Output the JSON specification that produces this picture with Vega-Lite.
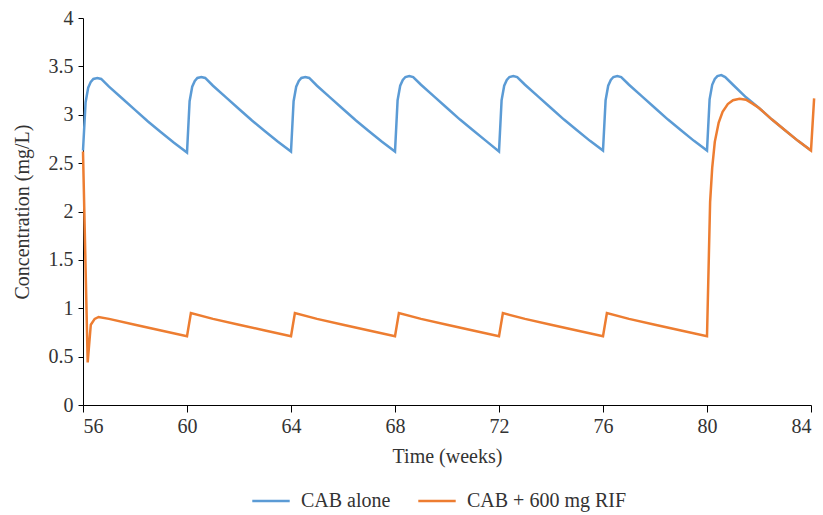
{
  "$schema": "https://vega.github.io/schema/vega-lite/v6.json",
  "width": 728,
  "height": 387,
  "autosize": {"type": "none"},
  "padding": {"left": 83, "top": 18, "right": 12, "bottom": 110},
  "background": "white",
  "config": {
    "view": {"stroke": null},
    "font": "Liberation Serif",
    "axis": {"grid": false, "domainColor": "#000", "tickColor": "#000", "labelColor": "#333", "titleColor": "#333", "labelFont": "Liberation Serif", "titleFont": "Liberation Serif", "labelFontSize": 20, "titleFontSize": 20, "titleFontWeight": "normal"}
  },
  "data": {"values": [
    {"t": 56, "c": 2.63, "s": "CAB alone"},
    {"t": 56.1, "c": 3.13, "s": "CAB alone"},
    {"t": 56.2, "c": 3.28, "s": "CAB alone"},
    {"t": 56.3, "c": 3.34, "s": "CAB alone"},
    {"t": 56.4, "c": 3.37, "s": "CAB alone"},
    {"t": 56.55, "c": 3.38, "s": "CAB alone"},
    {"t": 56.7, "c": 3.37, "s": "CAB alone"},
    {"t": 57, "c": 3.29, "s": "CAB alone"},
    {"t": 57.5, "c": 3.17, "s": "CAB alone"},
    {"t": 58, "c": 3.05, "s": "CAB alone"},
    {"t": 58.5, "c": 2.93, "s": "CAB alone"},
    {"t": 59, "c": 2.82, "s": "CAB alone"},
    {"t": 59.5, "c": 2.71, "s": "CAB alone"},
    {"t": 60, "c": 2.61, "s": "CAB alone"},
    {"t": 60.1, "c": 3.14, "s": "CAB alone"},
    {"t": 60.2, "c": 3.29, "s": "CAB alone"},
    {"t": 60.3, "c": 3.35, "s": "CAB alone"},
    {"t": 60.4, "c": 3.38, "s": "CAB alone"},
    {"t": 60.55, "c": 3.39, "s": "CAB alone"},
    {"t": 60.7, "c": 3.38, "s": "CAB alone"},
    {"t": 61, "c": 3.30, "s": "CAB alone"},
    {"t": 61.5, "c": 3.18, "s": "CAB alone"},
    {"t": 62, "c": 3.06, "s": "CAB alone"},
    {"t": 62.5, "c": 2.94, "s": "CAB alone"},
    {"t": 63, "c": 2.83, "s": "CAB alone"},
    {"t": 63.5, "c": 2.72, "s": "CAB alone"},
    {"t": 64, "c": 2.62, "s": "CAB alone"},
    {"t": 64.1, "c": 3.14, "s": "CAB alone"},
    {"t": 64.2, "c": 3.29, "s": "CAB alone"},
    {"t": 64.3, "c": 3.35, "s": "CAB alone"},
    {"t": 64.4, "c": 3.38, "s": "CAB alone"},
    {"t": 64.55, "c": 3.39, "s": "CAB alone"},
    {"t": 64.7, "c": 3.38, "s": "CAB alone"},
    {"t": 65, "c": 3.30, "s": "CAB alone"},
    {"t": 65.5, "c": 3.18, "s": "CAB alone"},
    {"t": 66, "c": 3.06, "s": "CAB alone"},
    {"t": 66.5, "c": 2.94, "s": "CAB alone"},
    {"t": 67, "c": 2.83, "s": "CAB alone"},
    {"t": 67.5, "c": 2.72, "s": "CAB alone"},
    {"t": 68, "c": 2.62, "s": "CAB alone"},
    {"t": 68.1, "c": 3.15, "s": "CAB alone"},
    {"t": 68.2, "c": 3.30, "s": "CAB alone"},
    {"t": 68.3, "c": 3.36, "s": "CAB alone"},
    {"t": 68.4, "c": 3.39, "s": "CAB alone"},
    {"t": 68.55, "c": 3.40, "s": "CAB alone"},
    {"t": 68.7, "c": 3.39, "s": "CAB alone"},
    {"t": 69, "c": 3.31, "s": "CAB alone"},
    {"t": 69.5, "c": 3.19, "s": "CAB alone"},
    {"t": 70, "c": 3.07, "s": "CAB alone"},
    {"t": 70.5, "c": 2.95, "s": "CAB alone"},
    {"t": 71, "c": 2.84, "s": "CAB alone"},
    {"t": 71.5, "c": 2.73, "s": "CAB alone"},
    {"t": 72, "c": 2.62, "s": "CAB alone"},
    {"t": 72.1, "c": 3.15, "s": "CAB alone"},
    {"t": 72.2, "c": 3.30, "s": "CAB alone"},
    {"t": 72.3, "c": 3.36, "s": "CAB alone"},
    {"t": 72.4, "c": 3.39, "s": "CAB alone"},
    {"t": 72.55, "c": 3.40, "s": "CAB alone"},
    {"t": 72.7, "c": 3.39, "s": "CAB alone"},
    {"t": 73, "c": 3.31, "s": "CAB alone"},
    {"t": 73.5, "c": 3.19, "s": "CAB alone"},
    {"t": 74, "c": 3.07, "s": "CAB alone"},
    {"t": 74.5, "c": 2.95, "s": "CAB alone"},
    {"t": 75, "c": 2.84, "s": "CAB alone"},
    {"t": 75.5, "c": 2.73, "s": "CAB alone"},
    {"t": 76, "c": 2.63, "s": "CAB alone"},
    {"t": 76.1, "c": 3.15, "s": "CAB alone"},
    {"t": 76.2, "c": 3.30, "s": "CAB alone"},
    {"t": 76.3, "c": 3.36, "s": "CAB alone"},
    {"t": 76.4, "c": 3.39, "s": "CAB alone"},
    {"t": 76.55, "c": 3.40, "s": "CAB alone"},
    {"t": 76.7, "c": 3.39, "s": "CAB alone"},
    {"t": 77, "c": 3.31, "s": "CAB alone"},
    {"t": 77.5, "c": 3.19, "s": "CAB alone"},
    {"t": 78, "c": 3.07, "s": "CAB alone"},
    {"t": 78.5, "c": 2.95, "s": "CAB alone"},
    {"t": 79, "c": 2.84, "s": "CAB alone"},
    {"t": 79.5, "c": 2.73, "s": "CAB alone"},
    {"t": 80, "c": 2.63, "s": "CAB alone"},
    {"t": 80.1, "c": 3.16, "s": "CAB alone"},
    {"t": 80.2, "c": 3.31, "s": "CAB alone"},
    {"t": 80.3, "c": 3.37, "s": "CAB alone"},
    {"t": 80.4, "c": 3.40, "s": "CAB alone"},
    {"t": 80.55, "c": 3.41, "s": "CAB alone"},
    {"t": 80.7, "c": 3.39, "s": "CAB alone"},
    {"t": 81, "c": 3.31, "s": "CAB alone"},
    {"t": 81.5, "c": 3.18, "s": "CAB alone"},
    {"t": 82, "c": 3.07, "s": "CAB alone"},
    {"t": 82.5, "c": 2.95, "s": "CAB alone"},
    {"t": 83, "c": 2.84, "s": "CAB alone"},
    {"t": 83.5, "c": 2.73, "s": "CAB alone"},
    {"t": 84, "c": 2.63, "s": "CAB alone"},

    {"t": 56, "c": 2.62, "s": "CAB + 600 mg RIF"},
    {"t": 56.18, "c": 0.44, "s": "CAB + 600 mg RIF"},
    {"t": 56.3, "c": 0.83, "s": "CAB + 600 mg RIF"},
    {"t": 56.45, "c": 0.89, "s": "CAB + 600 mg RIF"},
    {"t": 56.6, "c": 0.91, "s": "CAB + 600 mg RIF"},
    {"t": 57, "c": 0.89, "s": "CAB + 600 mg RIF"},
    {"t": 58, "c": 0.83, "s": "CAB + 600 mg RIF"},
    {"t": 59, "c": 0.77, "s": "CAB + 600 mg RIF"},
    {"t": 60, "c": 0.71, "s": "CAB + 600 mg RIF"},
    {"t": 60.15, "c": 0.95, "s": "CAB + 600 mg RIF"},
    {"t": 61, "c": 0.89, "s": "CAB + 600 mg RIF"},
    {"t": 62, "c": 0.83, "s": "CAB + 600 mg RIF"},
    {"t": 63, "c": 0.77, "s": "CAB + 600 mg RIF"},
    {"t": 64, "c": 0.71, "s": "CAB + 600 mg RIF"},
    {"t": 64.15, "c": 0.95, "s": "CAB + 600 mg RIF"},
    {"t": 65, "c": 0.89, "s": "CAB + 600 mg RIF"},
    {"t": 66, "c": 0.83, "s": "CAB + 600 mg RIF"},
    {"t": 67, "c": 0.77, "s": "CAB + 600 mg RIF"},
    {"t": 68, "c": 0.71, "s": "CAB + 600 mg RIF"},
    {"t": 68.15, "c": 0.95, "s": "CAB + 600 mg RIF"},
    {"t": 69, "c": 0.89, "s": "CAB + 600 mg RIF"},
    {"t": 70, "c": 0.83, "s": "CAB + 600 mg RIF"},
    {"t": 71, "c": 0.77, "s": "CAB + 600 mg RIF"},
    {"t": 72, "c": 0.71, "s": "CAB + 600 mg RIF"},
    {"t": 72.15, "c": 0.95, "s": "CAB + 600 mg RIF"},
    {"t": 73, "c": 0.89, "s": "CAB + 600 mg RIF"},
    {"t": 74, "c": 0.83, "s": "CAB + 600 mg RIF"},
    {"t": 75, "c": 0.77, "s": "CAB + 600 mg RIF"},
    {"t": 76, "c": 0.71, "s": "CAB + 600 mg RIF"},
    {"t": 76.15, "c": 0.95, "s": "CAB + 600 mg RIF"},
    {"t": 77, "c": 0.89, "s": "CAB + 600 mg RIF"},
    {"t": 78, "c": 0.83, "s": "CAB + 600 mg RIF"},
    {"t": 79, "c": 0.77, "s": "CAB + 600 mg RIF"},
    {"t": 80, "c": 0.71, "s": "CAB + 600 mg RIF"},
    {"t": 80.12, "c": 2.1, "s": "CAB + 600 mg RIF"},
    {"t": 80.2, "c": 2.45, "s": "CAB + 600 mg RIF"},
    {"t": 80.3, "c": 2.72, "s": "CAB + 600 mg RIF"},
    {"t": 80.45, "c": 2.92, "s": "CAB + 600 mg RIF"},
    {"t": 80.6, "c": 3.03, "s": "CAB + 600 mg RIF"},
    {"t": 80.8, "c": 3.11, "s": "CAB + 600 mg RIF"},
    {"t": 81, "c": 3.15, "s": "CAB + 600 mg RIF"},
    {"t": 81.25, "c": 3.165, "s": "CAB + 600 mg RIF"},
    {"t": 81.5, "c": 3.155, "s": "CAB + 600 mg RIF"},
    {"t": 81.75, "c": 3.115, "s": "CAB + 600 mg RIF"},
    {"t": 82, "c": 3.07, "s": "CAB + 600 mg RIF"},
    {"t": 82.5, "c": 2.95, "s": "CAB + 600 mg RIF"},
    {"t": 83, "c": 2.84, "s": "CAB + 600 mg RIF"},
    {"t": 83.5, "c": 2.73, "s": "CAB + 600 mg RIF"},
    {"t": 84, "c": 2.63, "s": "CAB + 600 mg RIF"},
    {"t": 84.12, "c": 3.17, "s": "CAB + 600 mg RIF"}
  ]},
  "mark": {"type": "line", "strokeWidth": 2.5, "clip": false},
  "encoding": {
    "x": {"field": "t", "type": "quantitative", "scale": {"domain": [56, 84], "nice": false, "zero": false},
      "axis": {"title": "Time (weeks)", "values": [56, 60, 64, 68, 72, 76, 80, 84], "tickSize": 7, "labelPadding": 4, "titlePadding": 10}},
    "y": {"field": "c", "type": "quantitative", "scale": {"domain": [0, 4], "nice": false},
      "axis": {"title": "Concentration (mg/L)", "values": [0, 0.5, 1, 1.5, 2, 2.5, 3, 3.5, 4], "format": "~g", "tickSize": 5, "labelPadding": 5, "titlePadding": 16}},
    "color": {"field": "s", "type": "nominal", "sort": ["CAB alone", "CAB + 600 mg RIF"],
      "scale": {"domain": ["CAB alone", "CAB + 600 mg RIF"], "range": ["#5B9BD5", "#ED7D31"]},
      "legend": {"title": null, "orient": "none", "direction": "horizontal", "legendX": 168, "legendY": 463, "symbolType": "stroke", "symbolSize": 1400, "symbolStrokeWidth": 2.5, "labelFontSize": 20, "labelFont": "Liberation Serif", "labelColor": "#333", "columnPadding": 22, "labelOffset": 10}}
  }
}
